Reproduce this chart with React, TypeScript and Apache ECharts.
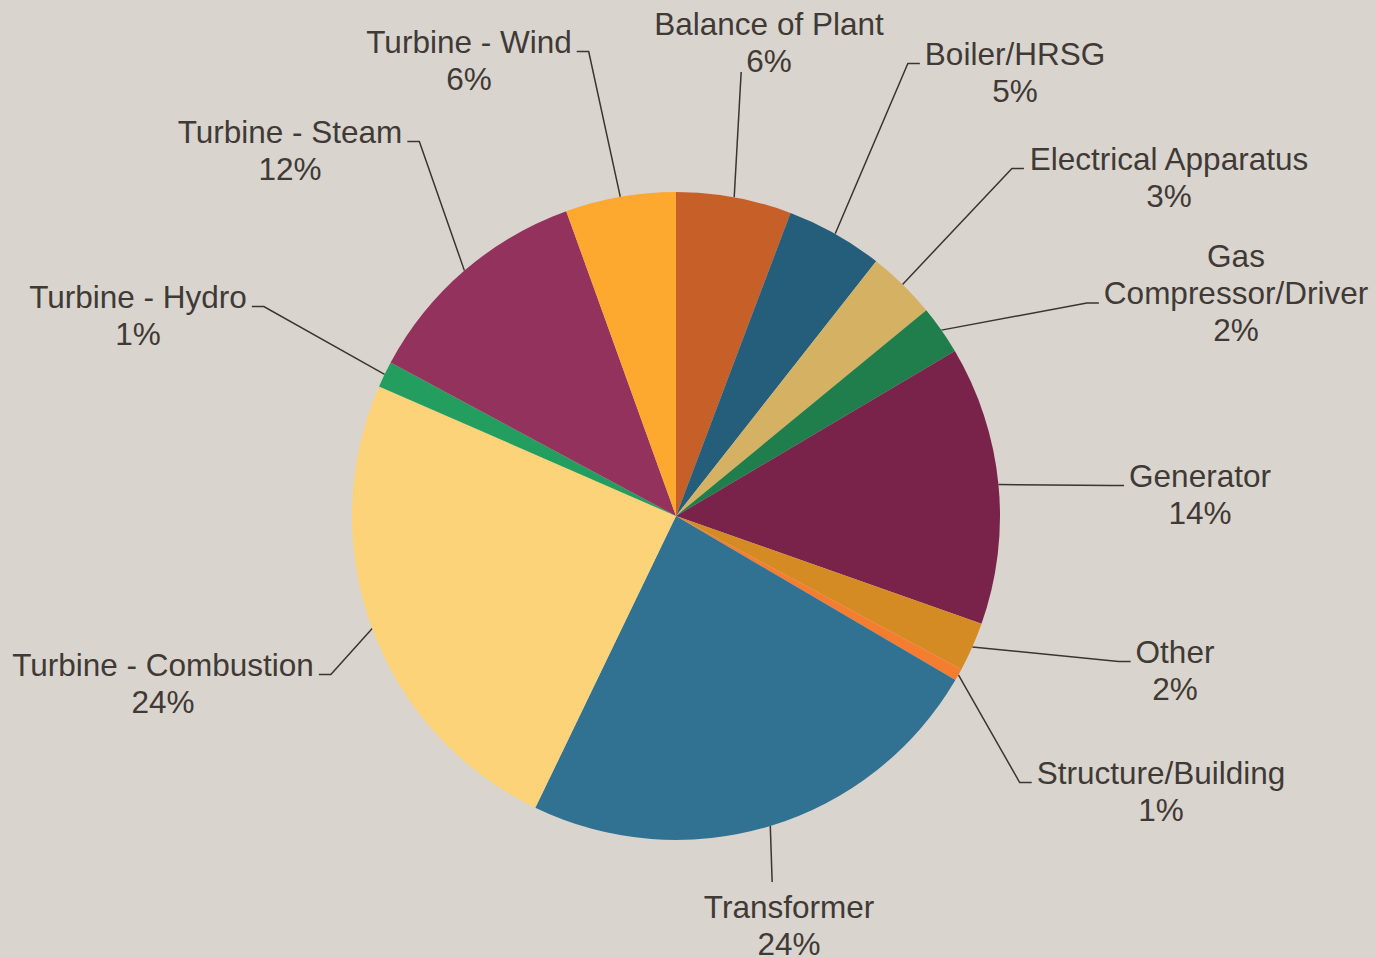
import React, { useEffect, useRef } from 'react';
import * as echarts from 'echarts';

// ---- data ----
const categories = [
  'Balance of Plant',
  'Boiler/HRSG',
  'Electrical Apparatus',
  'Gas Compressor/Driver',
  'Generator',
  'Other',
  'Structure/Building',
  'Transformer',
  'Turbine - Combustion',
  'Turbine - Hydro',
  'Turbine - Steam',
  'Turbine - Wind',
];
const shares = [5.75, 4.85, 3.45, 2.45, 13.9, 2.45, 0.6, 23.7, 24.4, 1.3, 11.65, 5.5];
const sliceColors = [
  '#C75F28', '#245E7B', '#D5B263', '#1F7E4B', '#79234A', '#D48B24',
  '#F47D30', '#317293', '#FDD37A', '#239E5E', '#94325E', '#FDA82F',
];
const wrappedNames = ['Gas Compressor/Driver'];

// ---- layout ----
const CENTER: [number, number] = [676, 516];
const RADIUS = 324;
const LINE_H = 37;
// centre of each label block (px in the chart)
const labelSpots: [number, number][] = [
  [769, 42], [1015, 72], [1169, 177], [1236, 293], [1200, 494], [1175, 670],
  [1161, 791], [789, 925], [163, 683], [138, 315], [290, 150], [469, 60],
];
// which side of the label the leader line attaches to
const labelSides = ['b', 'l', 'l', 'l', 'l', 'l', 'l', 't', 'r', 'r', 'r', 'r'];

const total = shares.reduce((a, b) => a + b, 0);
function edgePoint(i: number): [number, number] {
  let before = 0;
  for (let k = 0; k < i; k++) before += shares[k];
  const a = ((before + shares[i] / 2) / total) * Math.PI * 2;
  return [CENTER[0] + RADIUS * Math.sin(a), CENTER[1] - RADIUS * Math.cos(a)];
}

export default function App() {
  const ref = useRef<HTMLDivElement>(null);
  useEffect(() => {
    document.body.style.margin = '0';
    document.body.style.background = '#DAD4CE';
    const chart = echarts.init(ref.current!, null, { renderer: 'svg' });
    const data = categories.map((name, i) => ({
      name,
      value: shares[i],
      itemStyle: { color: sliceColors[i] },
    }));
    chart.setOption({
      animation: false,
      backgroundColor: '#DAD4CE',
      series: [
        {
          type: 'pie',
          center: CENTER,
          radius: RADIUS,
          startAngle: 90,
          clockwise: true,
          avoidLabelOverlap: false,
          emphasis: { disabled: true },
          data,
          label: {
            show: true,
            position: 'outside',
            color: '#403A36',
            fontFamily: '"Liberation Sans", Arial, sans-serif',
            fontSize: 31.5,
            lineHeight: LINE_H,
            formatter: (p: any) => {
              const shown = wrappedNames.includes(p.name) ? p.name.replace(' ', '\n') : p.name;
              return `${shown}\n${Math.round(p.percent)}%`;
            },
          },
          labelLine: {
            show: true,
            length: 20,
            length2: 12,
            lineStyle: { color: '#3B3431', width: 1.5 },
          },
          labelLayout: (p: any) => {
            const i = p.dataIndex;
            const [cx, cy] = labelSpots[i];
            const w = p.labelRect.width;
            const h = p.labelRect.height;
            const n = Math.max(1, Math.round(h / LINE_H));
            const start = edgePoint(i);
            const side = labelSides[i];
            let pts: number[][];
            if (side === 'l' || side === 'r') {
              const ay = cy - (n * LINE_H) / 2 + (n === 3 ? LINE_H * 1.5 : LINE_H * 0.5) + 10;
              const endX = side === 'l' ? cx - w / 2 - 5 : cx + w / 2 + 5;
              const elbowX = side === 'l' ? endX - 12 : endX + 12;
              pts = [start, [elbowX, ay], [endX, ay]];
            } else if (side === 'b') {
              const ex = start[0] + (cx - start[0]) * 0.2;
              const ey = cy + 30;
              pts = [start, [ex, ey], [ex, ey]];
            } else {
              const ex = start[0] + (cx - start[0]) * 0.1;
              const ey = cy - (n * LINE_H) / 2 - 6;
              pts = [start, [ex, ey], [ex, ey]];
            }
            return {
              x: cx,
              y: cy,
              align: 'center',
              verticalAlign: 'middle',
              labelLinePoints: pts,
            };
          },
        },
      ],
    });
    return () => chart.dispose();
  }, []);
  return (
    <div
      ref={ref}
      style={{ position: 'absolute', left: 0, top: 0, width: 1375, height: 957, background: '#DAD4CE' }}
    />
  );
}
